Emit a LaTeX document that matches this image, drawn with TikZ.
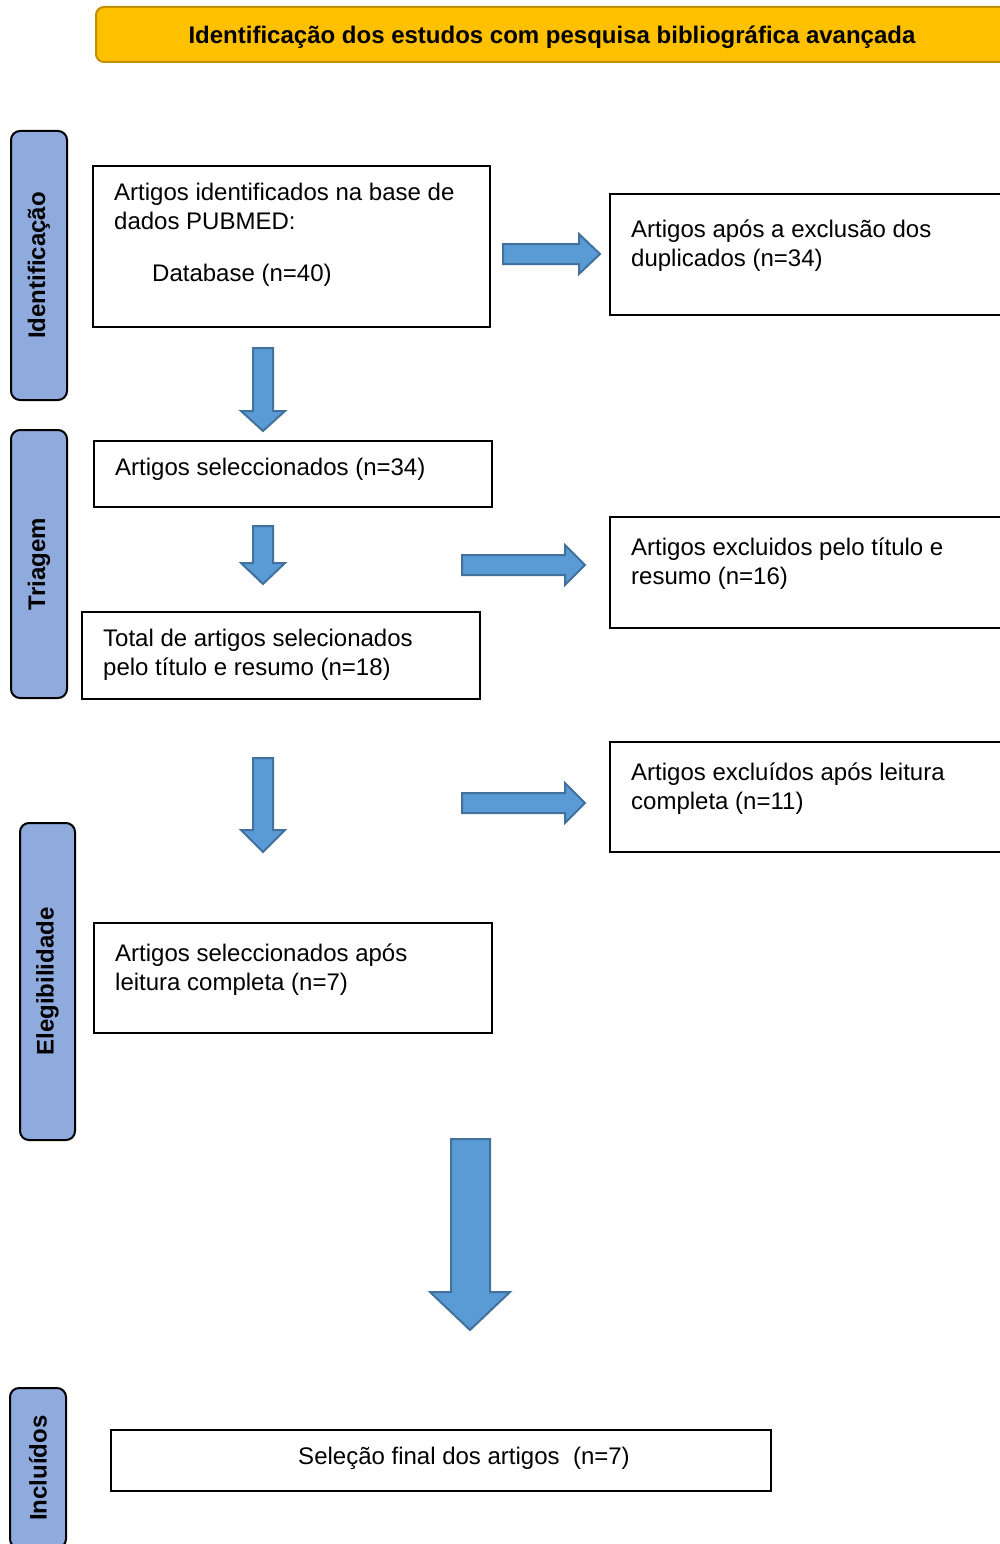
\documentclass[tikz,border=0pt]{standalone}
\usepackage{fontspec}
\setmainfont{Liberation Sans}
\definecolor{gold}{HTML}{FFC000}
\definecolor{goldedge}{HTML}{BF9000}
\definecolor{phase}{HTML}{8FAADC}
\definecolor{arrfill}{HTML}{5B9BD5}
\definecolor{arredge}{HTML}{41719C}
\begin{document}
\begin{tikzpicture}[x=1pt,y=-1pt,
  box/.style={draw=black, line width=2pt, anchor=north west, inner sep=0pt, outer sep=0pt},
  phasebox/.style={draw=black, line width=2pt, fill=phase, rounded corners=9pt, rotate=90,
    font=\bfseries\fontsize{24}{29}\selectfont, inner sep=0pt},
  txt/.style={anchor=north west, inner sep=0pt, align=left, font=\fontsize{24}{29}\selectfont},
  blockarrow/.style={fill=arrfill, draw=arredge, line width=2pt, line join=miter}]
\useasboundingbox (0,0) rectangle (999,1544);
% banner
\node[draw=goldedge, fill=gold, line width=2pt, rounded corners=8pt, minimum width=912pt,
  minimum height=55pt, font=\bfseries\fontsize{24}{29}\selectfont, inner sep=0pt, text depth=0pt]
  (banner) at (552,34.5) {Identificação dos estudos com pesquisa bibliográfica avançada};
% phase labels
\node[phasebox, minimum width=269pt, minimum height=56pt] (p1) at (39,265.5) {Identificação};
\node[phasebox, minimum width=268pt, minimum height=56pt] (p2) at (39,564) {Triagem};
\node[phasebox, minimum width=317pt, minimum height=55pt] (p3) at (47.5,981.5) {Elegibilidade};
\node[phasebox, minimum width=160pt, minimum height=56pt] (p4) at (38,1468) {Incluídos};
% boxes
\node[box, minimum width=397pt, minimum height=161pt] (b1) at (93,166) {};
\node[box, minimum width=400pt, minimum height=121pt] (b2) at (610,194) {};
\node[box, minimum width=398pt, minimum height=66pt] (b3) at (94,441) {};
\node[box, minimum width=400pt, minimum height=111pt] (b4) at (610,517) {};
\node[box, minimum width=398pt, minimum height=87pt] (b5) at (82,612) {};
\node[box, minimum width=400pt, minimum height=110pt] (b6) at (610,742) {};
\node[box, minimum width=398pt, minimum height=110pt] (b7) at (94,923) {};
\node[box, minimum width=660pt, minimum height=61pt] (b8) at (111,1430) {};
% texts
\node[txt] (t1) at (114,179.7) {\strut Artigos identificados na base de\\dados PUBMED:};
\node[txt, anchor=base west] (t1b) at (152,281) {Database (n=40)};
\node[txt] (t2) at (631,216.7) {\strut Artigos após a exclusão dos\\duplicados (n=34)};
\node[txt] (t3) at (115,454.7) {\strut Artigos seleccionados (n=34)};
\node[txt] (t4) at (631,534.7) {\strut Artigos excluidos pelo título e\\resumo (n=16)};
\node[txt] (t5) at (103,625.7) {\strut Total de artigos selecionados\\pelo título e resumo (n=18)};
\node[txt] (t6) at (631,759.7) {\strut Artigos excluídos após leitura\\completa (n=11)};
\node[txt] (t7) at (115,940.7) {\strut Artigos seleccionados após\\leitura completa (n=7)};
\node[txt, anchor=base] (t8) at (464,1464) {Seleção final dos artigos\ \ (n=7)};
% block arrows
\draw[blockarrow] (253,348) -- (273,348) -- (273,411) -- (285,411) -- (263,431) -- (241,411) -- (253,411) -- cycle;
\draw[blockarrow] (253,526) -- (273,526) -- (273,563) -- (285,563) -- (263,584) -- (241,563) -- (253,563) -- cycle;
\draw[blockarrow] (253,758) -- (273,758) -- (273,830) -- (285,830) -- (263,852) -- (241,830) -- (253,830) -- cycle;
\draw[blockarrow] (451,1139) -- (490,1139) -- (490,1292) -- (510,1292) -- (470,1330) -- (430,1292) -- (451,1292) -- cycle;
\draw[blockarrow] (503,244) -- (579,244) -- (579,234) -- (600,254) -- (579,274) -- (579,264) -- (503,264) -- cycle;
\draw[blockarrow] (462,555) -- (565,555) -- (565,545) -- (585,565) -- (565,585) -- (565,575) -- (462,575) -- cycle;
\draw[blockarrow] (462,793) -- (565,793) -- (565,783) -- (585,803) -- (565,823) -- (565,813) -- (462,813) -- cycle;
\end{tikzpicture}
\end{document}
